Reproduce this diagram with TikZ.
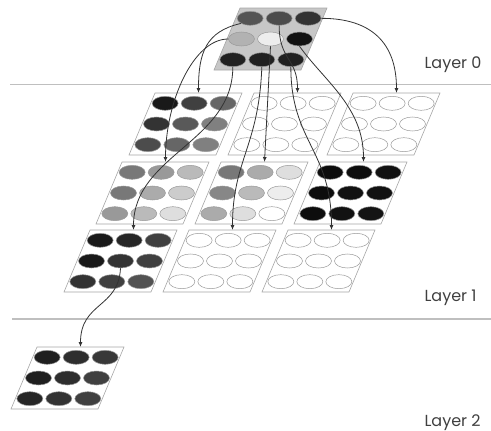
\documentclass[tikz,border=0pt]{standalone}
\usepackage{fontspec}
\setsansfont{Poppins}
\usetikzlibrary{shapes.geometric,arrows.meta}

\newcommand{\mapw}{87}
\newcommand{\maph}{62}
\newcommand{\mapskew}{26}

% one map: slanted frame, 3x3 units, coordinate at the top middle
\newcommand{\somgrid}[5]{%
  \draw[mapframe, fill=#1] (#3,#4) -- ++(\mapw,0) -- ++(-\mapskew,\maph) -- ++(-\mapw,0) -- cycle;
  \coordinate (#2) at ({#3+\mapw/2},#4);
  \foreach \tone [count=\i from 0] in {#5} {
    \pgfmathtruncatemacro\ur{\i/3}
    \pgfmathtruncatemacro\uc{mod(\i,3)}
    \node[unit, fill=black!\tone] (#2-\ur\uc)
      at ({#3-\mapskew*(2*\ur+1)/6+\mapw*(2*\uc+1)/6}, {#4+\maph*(2*\ur+1)/6}) {};
  }%
}

\tikzset{
  mapframe/.style={draw=black!35, line width=0.6pt},
  unit/.style={ellipse, draw=black!40, line width=0.5pt, minimum width=26pt, minimum height=14pt, inner sep=0pt},
  link/.style={-{Latex[length=5pt,width=4pt]}, draw=black!80, line width=0.8pt},
  layerline/.style={draw=black!25, line width=1.2pt},
  layertext/.style={anchor=base west, font=\sffamily\fontsize{16}{18}\selectfont, text=black!75},
}

\begin{document}
\begin{tikzpicture}[x=1pt,y=-1pt]
  \useasboundingbox (0,0) rectangle (491,431);

  % layer separators and labels
  \draw[layerline] (10,84.5) -- (491,84.5);
  \draw[layerline] (12,319) -- (491,319);
  \node[layertext] (lab0) at (421,68) {Layer 0};
  \node[layertext] (lab1) at (421,301) {Layer 1};
  \node[layertext] (lab2) at (421,426) {Layer 2};

  % layer 0
  \somgrid{black!22}{L0}{240}{8}{67,70,80, 30,7,93, 87,87,87}

  % layer 1, one map per unit above
  \somgrid{white}{m00}{155}{93}{90,75,60, 80,65,50, 70,60,50}
  \somgrid{white}{m01}{254}{93}{0,0,0, 0,0,0, 0,0,0}
  \somgrid{white}{m02}{353}{93}{0,0,0, 0,0,0, 0,0,0}
  \somgrid{white}{m10}{122}{162}{53,40,27, 53,33,20, 40,27,13}
  \somgrid{white}{m11}{221}{162}{53,33,13, 47,27,7, 33,13,0}
  \somgrid{white}{m12}{320}{162}{95,95,93, 95,93,93, 95,93,92}
  \somgrid{white}{m20}{90}{230}{90,85,75, 90,80,75, 80,75,68}
  \somgrid{white}{m21}{189}{230}{0,0,0, 0,0,0, 0,0,0}
  \somgrid{white}{m22}{288}{230}{0,0,0, 0,0,0, 0,0,0}

  % layer 2
  \somgrid{white}{m2}{37}{347}{88,82,78, 88,82,75, 85,80,75}

  % links between the layers
  \draw[link] (L0-00.south west) .. controls +(-35,8) and +(0,-40) .. (m00);
  \draw[link] (L0-01.south) .. controls +(0,35) and +(0,-35) .. (m01);
  \draw[link] (L0-02.east) .. controls +(50,0) and +(0,-50) .. (m02);
  \draw[link] (L0-10.west) .. controls +(-35,0) and +(0,-60) .. (m10);
  \draw[link] (L0-11.south) -- (m11);
  \draw[link] (L0-12.south) .. controls +(25,35) and +(0,-55) .. (m12);
  \draw[link] (L0-20.south) .. controls +(0,75) and +(0,-75) .. (m20);
  \draw[link] (L0-21.south) .. controls +(-3,80) and +(0,-70) .. (m21);
  \draw[link] (L0-22.south) .. controls +(0,75) and +(0,-80) .. (m22);
  \draw[link] (m20-11.south) .. controls +(-2,40) and +(0,-45) .. (m2);
\end{tikzpicture}
\end{document}
